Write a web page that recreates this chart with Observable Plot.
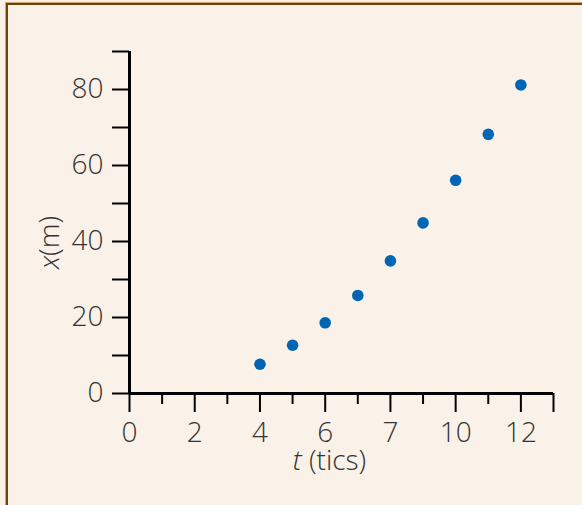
<!DOCTYPE html>
<html>
<head>
<meta charset="utf-8">
<script src="https://cdn.jsdelivr.net/npm/d3@7"></script>
<script src="https://cdn.jsdelivr.net/npm/@observablehq/plot@0.6"></script>
<style>
  html, body { margin: 0; padding: 0; background: #faf0e6; overflow: hidden; }
  #frame {
    position: absolute; left: 6px; top: 3px; width: 600px; height: 520px;
    border-left: 2px solid #6e4208; border-top: 2px solid #6e4208;
    box-shadow: -1px -1px 0 #c9a67a;
    background: #faf1e8;
  }
  #chart { position: absolute; left: 0; top: 0; }
</style>
</head>
<body>
<div id="frame"></div>
<div id="chart"></div>
<script>
// data
const tValues = [4, 5, 6, 7, 8, 9, 10, 11, 12];
const xValues = [7.7, 12.7, 18.6, 25.8, 34.9, 44.9, 56.1, 68.2, 81.2];

// axis ticks and labels
const xMajorTicks = [0, 2, 4, 6, 8, 10, 12, 13];
const xMajorLabels = ["0", "2", "4", "6", "7", "10", "12", ""];
const xMinorTicks = [1, 3, 5, 7, 9, 11];
const yTicks = [0, 10, 20, 30, 40, 50, 60, 70, 80, 90];
const yLabelTicks = [0, 20, 40, 60, 80];
const yLabels = ["0", "20", "40", "60", "80"];
const xAxisTitle = "t (tics)";
const yAxisTitle = "x(m)";

const points = tValues.map((t, i) => ({t, x: xValues[i]}));

const chart = Plot.plot({
  width: 582,
  height: 505,
  marginLeft: 129,
  marginRight: 29,
  marginTop: 51,
  marginBottom: 112,
  style: {background: "transparent", fontFamily: "'Open Sans', sans-serif", fontSize: "28px", fontWeight: 300, color: "#333"},
  x: {domain: [0, 13]},
  y: {domain: [0, 90]},
  marks: [
    Plot.axisY(yTicks, {
      tickSize: 17, tickPadding: 9, stroke: "black", strokeWidth: 2,
      tickFormat: d => { const i = yLabelTicks.indexOf(d); return i >= 0 ? yLabels[i] : ""; },
      label: null
    }),
    Plot.axisX(xMajorTicks, {
      tickSize: 19, tickPadding: 10, stroke: "black", strokeWidth: 2,
      tickFormat: d => xMajorLabels[xMajorTicks.indexOf(d)],
      label: null
    }),
    Plot.axisX(xMinorTicks, {
      tickSize: 11, stroke: "black", strokeWidth: 2,
      tickFormat: () => "", label: null
    }),
    Plot.ruleY([0], {stroke: "black", strokeWidth: 3}),
    Plot.ruleX([0], {stroke: "black", strokeWidth: 3}),
    Plot.text([xAxisTitle], {frameAnchor: "bottom", textAnchor: "middle", dx: -12, dy: 76, fontSize: 28, fill: "#333", className: "xtitle"}),
    Plot.text([yAxisTitle], {frameAnchor: "left", textAnchor: "middle", rotate: -90, dx: -79, dy: 20, fontSize: 28, fill: "#333", className: "ytitle"}),
    Plot.dot(points, {x: "t", y: "x", r: 5.8, fill: "#0066b3", stroke: "none"})
  ]
});

document.getElementById("chart").appendChild(chart);

// italic variable letters in the axis titles
d3.select(chart).selectAll("text").each(function() {
  const txt = this.textContent;
  if (txt === xAxisTitle || txt === yAxisTitle) {
    const sel = d3.select(this);
    sel.text(null);
    sel.append("tspan").attr("font-style", "italic").text(txt[0]);
    sel.append("tspan").text(txt.slice(1));
  }
});
</script>
</body>
</html>
